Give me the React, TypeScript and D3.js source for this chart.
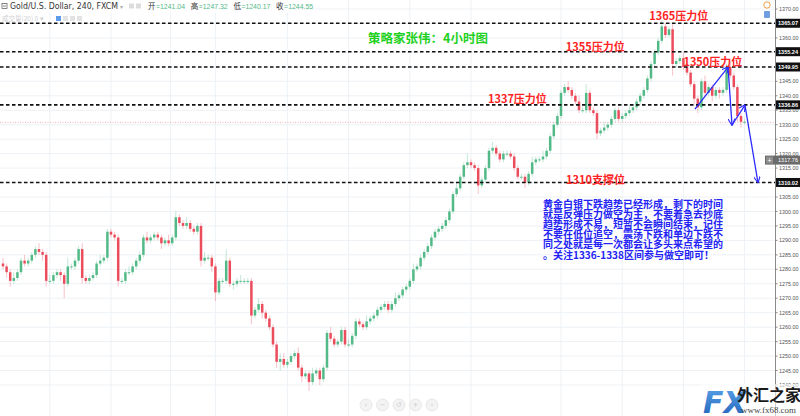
import { useEffect } from "react";
import * as d3 from "d3";

// 收盘价（4小时K线）
const closes = [
  1281, 1279, 1276, 1277, 1279, 1283, 1282, 1283, 1285, 1287, 1286, 1285, 1276, 1276, 1278, 1279, 1278, 1275, 1281, 1281,
  1283, 1287, 1277, 1276, 1277, 1278, 1282, 1283, 1284, 1293, 1292, 1291, 1276, 1276, 1279, 1279, 1281, 1283, 1285, 1291,
  1290, 1291, 1292, 1291, 1289, 1290, 1289, 1291, 1298, 1296, 1295, 1296, 1294, 1293, 1295, 1283, 1284, 1284, 1281, 1272,
  1276, 1276, 1283, 1275, 1275, 1276, 1276, 1276, 1276, 1264, 1266, 1268, 1265, 1263, 1260, 1254, 1248, 1249, 1247, 1248,
  1250, 1251, 1246, 1243, 1244, 1241, 1244, 1245, 1242, 1246, 1258, 1256, 1254, 1255, 1259, 1254, 1254, 1257, 1262, 1261,
  1260, 1262, 1263, 1264, 1266, 1267, 1268, 1266, 1268, 1270, 1271, 1273, 1274, 1276, 1280, 1281, 1284, 1286, 1288, 1291,
  1293, 1294, 1295, 1297, 1300, 1306, 1308, 1312, 1316, 1317, 1316, 1315, 1309, 1311, 1315, 1321, 1322, 1320, 1318, 1320,
  1320, 1319, 1315, 1312, 1312, 1310, 1313, 1317, 1318, 1318, 1319, 1321, 1326, 1330, 1333, 1341, 1343, 1342, 1340, 1338,
  1335, 1335, 1341, 1335, 1334, 1327, 1328, 1329, 1330, 1332, 1335, 1332, 1333, 1334, 1335, 1336, 1338, 1340, 1342, 1346,
  1351, 1355, 1359, 1364, 1361, 1363, 1351, 1352, 1353, 1350, 1348, 1344, 1339, 1336, 1345, 1341, 1343, 1340, 1342, 1341,
  1342, 1350, 1347, 1343, 1333, 1331, 1331,
];
const firstOpen = 1282;

// 上影线 / 下影线长度
const wickUp = [
  2, 1, 1, 2, 1, 1, 2, 1, 1, 1, 2, 1, 1, 2, 1, 1, 1, 1, 3, 1,
  1, 1, 2, 1, 1, 1, 1, 2, 1, 1, 1, 1, 1, 1, 1, 2, 1, 1, 1, 1,
  2, 1, 1, 1, 1, 1, 2, 1, 2, 1, 1, 2, 1, 1, 1, 1, 2, 1, 1, 1,
  1, 1, 4, 1, 1, 1, 2, 1, 1, 1, 1, 2, 1, 1, 1, 1, 1, 2, 2, 1,
  1, 1, 2, 1, 1, 1, 2, 1, 1, 1, 1, 2, 1, 1, 1, 1, 2, 1, 1, 1,
  1, 2, 1, 1, 1, 1, 1, 1, 1, 2, 1, 1, 1, 1, 2, 1, 1, 1, 1, 1,
  1, 1, 1, 1, 1, 1, 2, 1, 1, 3, 1, 1, 1, 1, 1, 1, 2, 1, 1, 1,
  1, 1, 1, 1, 1, 1, 1, 2, 1, 1, 2, 1, 1, 1, 1, 1, 1, 2, 1, 1,
  2, 1, 3, 1, 1, 1, 1, 2, 1, 1, 1, 1, 1, 1, 2, 1, 1, 1, 1, 1,
  1, 1, 1, 2, 1, 1, 2, 1, 1, 2, 1, 1, 1, 1, 1, 2, 1, 1, 1, 1,
  1, 1, 2, 1, 1, 1, 1,
];
const wickDn = [
  1, 2, 2, 1, 1, 1, 1, 1, 1, 1, 1, 2, 2, 1, 1, 1, 2, 5, 1, 1,
  1, 1, 2, 1, 1, 1, 1, 1, 1, 1, 1, 1, 2, 1, 1, 1, 1, 1, 1, 1,
  1, 1, 1, 1, 2, 1, 1, 1, 1, 1, 1, 1, 1, 1, 1, 2, 1, 1, 2, 3,
  1, 1, 1, 1, 2, 1, 1, 1, 1, 3, 1, 1, 2, 1, 1, 1, 2, 3, 1, 1,
  1, 1, 1, 2, 1, 3, 1, 1, 2, 1, 1, 1, 1, 1, 1, 1, 1, 1, 1, 1,
  1, 1, 1, 1, 1, 1, 1, 1, 1, 1, 1, 1, 1, 1, 1, 1, 1, 1, 1, 1,
  1, 1, 1, 1, 1, 1, 1, 1, 1, 1, 1, 1, 3, 1, 1, 1, 1, 1, 1, 1,
  1, 1, 1, 1, 1, 2, 1, 1, 1, 1, 1, 1, 1, 1, 1, 1, 1, 1, 1, 1,
  1, 1, 1, 1, 1, 2, 1, 1, 1, 1, 1, 1, 1, 1, 1, 1, 1, 1, 1, 1,
  1, 1, 1, 1, 1, 1, 4, 1, 1, 1, 1, 1, 2, 2, 1, 1, 1, 2, 1, 2,
  1, 1, 1, 1, 2, 2, 1,
];

// 压力/支撑线
const levels = [1365.07, 1355.24, 1349.95, 1336.86, 1310.02];
const levelNotes = [
  { text: "1365压力位", idx: 179.5, price: 1366.2 },
  { text: "1355压力位", idx: 156.3, price: 1355.6 },
  { text: "1350压力位", idx: 189, price: 1350.2 },
  { text: "1337压力位", idx: 134.7, price: 1337.4 },
  { text: "1310支撑位", idx: 156.4, price: 1309.6 },
];
const lastPrice = 1330.8;
const markPrice = 1317.76;

// 右侧价格刻度
const priceTicks = d3.range(1240, 1371, 5);
// 竖向网格（K线序号）
const timeGrid = [13, 30, 46.5, 59, 79, 96, 113, 130, 155, 172, 189, 206];

// 走势箭头（序号, 价格）
const arrowPts: [number, number][] = [
  [192.2, 1335.4],
  [201.4, 1349.9],
  [202.5, 1329.9],
  [206.1, 1336.8],
  [209.7, 1310.1],
];

const noteLines = [
  "黄金白银下跌趋势已经形成，剩下的时间",
  "就是反弹压力做空为主，不要着急去抄底",
  "趋势形成不易，短暂不会瞬间结束，记住",
  "不要在低位追空，震荡下跌和单边下跌不",
  "同之处就是每一次都会让多头来点希望的",
  "。关注1336-1338区间参与做空即可！",
];

const ohlc = [
  { k: "开", v: "1241.04" },
  { k: "高", v: "1247.32" },
  { k: "低", v: "1240.17" },
  { k: "收", v: "1244.55" },
];

const W = 800;
const H = 416;
const axisX = 775;
const UP = "#53b987";
const DOWN = "#eb4d5c";
const CJK = "'Noto Sans CJK SC', sans-serif";
const LAT = "'DejaVu Sans', Verdana, sans-serif";
const ARIAL = "'Liberation Sans', Arial, sans-serif";

export default function App() {
  useEffect(() => {
    document.body.style.margin = "0";
  }, []);

  const x = d3.scaleLinear().domain([0, closes.length - 1]).range([3, 744.6]);
  const y = d3.scaleLinear().domain([1240, 1370]).range([385, 9]);

  const candles = closes.map((c, i) => {
    const o = i === 0 ? firstOpen : closes[i - 1];
    const hi = Math.max(o, c) + wickUp[i];
    const lo = Math.min(o, c) - wickDn[i];
    return { i, o, c, hi, lo, up: c >= o };
  });

  // 被标签框遮住的刻度不画
  const visibleTicks = priceTicks.filter((p) => levels.every((l) => Math.abs(y(l) - y(p)) > 4.6));

  const bw = 2.5;
  const arrowLine = d3
    .line<[number, number]>()
    .x((d) => x(d[0]))
    .y((d) => y(d[1]));

  return (
    <svg width={W} height={H} style={{ display: "block", background: "#fff" }}>
      <defs>
        <marker id="ah" viewBox="0 0 10 10" refX="9" refY="5" markerWidth="7" markerHeight="7" orient="auto" markerUnits="userSpaceOnUse">
          <path d="M0,0 L10,5 L0,10" fill="none" stroke="#2b2bff" strokeWidth={1.6} />
        </marker>
        <linearGradient id="fxg" x1="0" y1="0" x2="0" y2="1">
          <stop offset="0" stopColor="#5aa6ea" />
          <stop offset="1" stopColor="#1f5fb8" />
        </linearGradient>
      </defs>

      {/* 网格 */}
      <g>
        {priceTicks.map((p) => (
          <line key={p} x1={0} x2={axisX} y1={y(p)} y2={y(p)} stroke="#edf1f5" strokeWidth={1} />
        ))}
        {timeGrid.map((t) => (
          <line key={t} x1={x(t)} x2={x(t)} y1={0} y2={H} stroke="#edf1f5" strokeWidth={1} />
        ))}
      </g>

      {/* 最新价虚线 */}
      <line x1={0} x2={axisX} y1={y(lastPrice)} y2={y(lastPrice)} stroke="#f29aa3" strokeWidth={0.8} strokeDasharray="1,1.5" />

      {/* K线 */}
      <g>
        {candles.map((d) => {
          const col = d.up ? UP : DOWN;
          const top = y(Math.max(d.o, d.c));
          const h = Math.max(1, y(Math.min(d.o, d.c)) - top);
          return (
            <g key={d.i}>
              <line x1={x(d.i)} x2={x(d.i)} y1={y(d.hi)} y2={y(d.lo)} stroke={col} strokeOpacity={0.35} strokeWidth={1} />
              <rect x={x(d.i) - bw / 2} y={top} width={bw} height={h} fill={col} />
            </g>
          );
        })}
      </g>

      {/* 压力/支撑虚线 */}
      {levels.map((p) => (
        <line key={p} x1={0} x2={axisX} y1={y(p)} y2={y(p)} stroke="#111" strokeWidth={1.6} strokeDasharray="3.5,2.5" />
      ))}

      {/* 箭头 */}
      {arrowPts.slice(1).map((p, k) => (
        <path
          key={k}
          d={arrowLine([arrowPts[k], p]) || ""}
          stroke="#2b2bff"
          strokeWidth={1.3}
          fill="none"
          markerEnd="url(#ah)"
        />
      ))}

      {/* 红色标注 */}
      {levelNotes.map((n) => (
        <text key={n.text} x={x(n.idx)} y={y(n.price)} fill="#ff2424" fontFamily={CJK} fontWeight={700} fontSize={11}>
          {n.text}
        </text>
      ))}

      {/* 标题 */}
      <text x={368} y={42.5} fill="#1fd11f" fontFamily={CJK} fontWeight={700} fontSize={12.5}>
        策略家张伟：4小时图
      </text>

      {/* 蓝色说明 */}
      <g fontFamily={CJK} fontWeight={700} fontSize={10} fill="#2323f5">
        {noteLines.map((t, i) => (
          <text key={i} x={543} y={207.5 + i * 10.2}>
            {t}
          </text>
        ))}
      </g>

      {/* 右侧坐标轴 */}
      <rect x={axisX} y={0} width={W - axisX} height={H} fill="#fff" />
      <line x1={axisX + 0.5} x2={axisX + 0.5} y1={0} y2={H} stroke="#8a8a8a" strokeWidth={1} />
      <g fontFamily={ARIAL} fontSize={6} fill="#555">
        {visibleTicks.map((p) => (
          <g key={p}>
            <line x1={axisX} x2={axisX + 2.5} y1={y(p)} y2={y(p)} stroke="#8a8a8a" />
            <text x={axisX + 4} y={y(p)} dy="0.35em" textLength={19.5} lengthAdjust="spacingAndGlyphs">
              {p.toFixed(2)}
            </text>
          </g>
        ))}
      </g>
      {levels.map((p) => (
        <g key={p}>
          <rect x={axisX + 1} y={y(p) - 4.5} width={W - axisX - 1} height={9} fill="#111" />
          <text x={axisX + 3} y={y(p)} dy="0.36em" fill="#fff" fontFamily={ARIAL} fontWeight={700} fontSize={6.2} textLength={20} lengthAdjust="spacingAndGlyphs">
            {p.toFixed(2)}
          </text>
        </g>
      ))}
      <g>
        <rect x={axisX - 10} y={y(markPrice) - 4.5} width={W - axisX + 10} height={9} fill="#6b6b6b" />
        <rect x={axisX - 9} y={y(markPrice) - 3.5} width={7} height={7} fill="#8c8c8c" />
        <text x={axisX - 5.5} y={y(markPrice)} dy="0.35em" textAnchor="middle" fill="#fff" fontFamily={ARIAL} fontSize={7}>
          +
        </text>
        <text x={axisX + 3} y={y(markPrice)} dy="0.36em" fill="#fff" fontFamily={ARIAL} fontSize={6.2} textLength={20} lengthAdjust="spacingAndGlyphs">
          {markPrice.toFixed(2)}
        </text>
      </g>

      {/* 右上角图标 */}
      <circle cx={767} cy={5} r={3.2} fill="#fff" stroke="#f5a04a" strokeWidth={1} />
      <rect x={764} y={11} width={6} height={7} rx={1} fill="#6f9fe0" />

      {/* 顶部图例 */}
      <rect x={0} y={0} width={292} height={13} fill="#fff" fillOpacity={0.85} />
      <rect x={2} y={3.5} width={5} height={5} fill="none" stroke="#555" strokeWidth={0.7} />
      <line x1={3} x2={6} y1={6} y2={6} stroke="#555" strokeWidth={0.7} />
      <text x={10} y={9} fontFamily={LAT} fontSize={8} fill="#333" textLength={108} lengthAdjust="spacingAndGlyphs">
        Gold/U.S. Dollar, 240, FXCM
      </text>
      <text x={120} y={9} fontFamily={LAT} fontSize={6} fill="#aaa">
        ▾
      </text>
      <rect x={129} y={3.5} width={5} height={5} fill="#ddd" />
      <rect x={136} y={3.5} width={5} height={5} fill="#ddd" />
      <g fontSize={7.5}>
        {ohlc.map((d, i) => (
          <g key={d.k}>
            <text x={148 + i * 42.7} y={9} fontFamily={CJK} fill="#333">
              {d.k}
            </text>
            <text x={156 + i * 42.7} y={9} fontFamily={ARIAL} fill={UP} textLength={29} lengthAdjust="spacingAndGlyphs">
              ={d.v}
            </text>
          </g>
        ))}
      </g>
      <text x={2} y={21} fontFamily={CJK} fontSize={6.5} fill="#cfcfcf">
        成交量(20) 0 ▾
      </text>
      <rect x={56} y={16} width={5} height={5} fill="#5b9bea" />
      <rect x={63} y={16} width={5} height={5} fill="#e3e3e3" />
      <rect x={70} y={16} width={5} height={5} fill="#e3e3e3" />
      <rect x={77} y={16} width={5} height={5} fill="#e3e3e3" />

      {/* 缩放按钮 */}
      <g fill="#f3f3f3" stroke="#e2e2e2" strokeWidth={0.8}>
        {["‹", "−", "↺", "+", "›"].map((s, i) => (
          <g key={i}>
            <circle cx={366 + i * 16.5} cy={405} r={6} />
            <text x={366 + i * 16.5} y={405} dy="0.35em" textAnchor="middle" fontFamily={LAT} fontSize={7} fill="#ccc" stroke="none">
              {s}
            </text>
          </g>
        ))}
      </g>

      {/* 水印 */}
      <rect x={700} y={384} width={100} height={32} fill="#fff" fillOpacity={0.6} />
      <text x={703} y={413} fontFamily={LAT} fontWeight={700} fontStyle="italic" fontSize={30} fill="url(#fxg)">
        FX
      </text>
      <text x={737} y={401} fontFamily={CJK} fontWeight={700} fontSize={16} fill="#1a1a1a">
        外汇之家
      </text>
      <text x={741} y={413} fontFamily="'Liberation Serif', serif" fontSize={9} fill="#444" textLength={55} lengthAdjust="spacingAndGlyphs">
        www.fx68.com
      </text>
    </svg>
  );
}
